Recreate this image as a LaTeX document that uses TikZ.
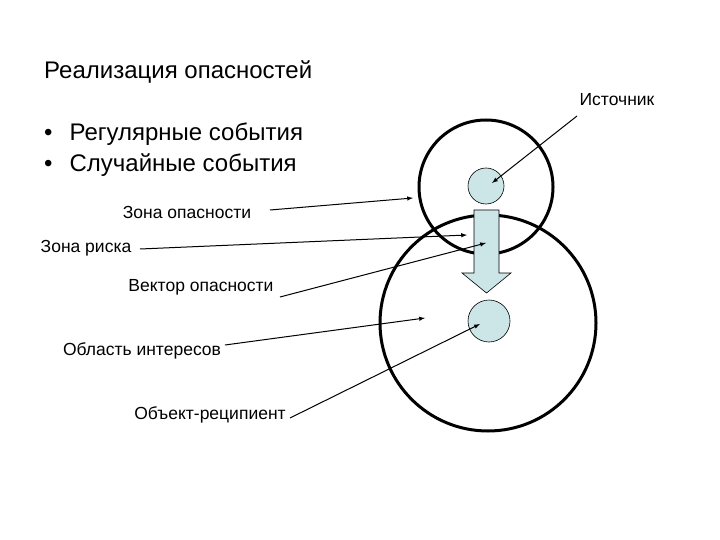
\documentclass[tikz,border=0pt]{standalone}
\usepackage{fontspec}
\setmainfont{Liberation Sans}
\definecolor{blobc}{HTML}{CCE6E8}
\begin{document}
\begin{tikzpicture}[x=1pt,y=-1pt,
  lbl/.style={font=\fontsize{17.5}{20}\selectfont},
  big/.style={font=\fontsize{24}{28}\selectfont},
  ring/.style={draw=black,line width=3pt},
  blob/.style={draw=black,fill=blobc,line width=0.6pt},
  ptr/.style={-latex,line width=1pt}]
\useasboundingbox (0,0) rectangle (720,540);
\node[big,anchor=west,inner sep=0pt] (title) at (44,72) {Реализация опасностей};
\node[big,anchor=west,inner sep=0pt] (b1) at (44,134) {•\hspace{17pt}Регулярные события};
\node[big,anchor=west,inner sep=0pt] (b2) at (44,165) {•\hspace{17pt}Случайные события};
\draw[ring] (486,187) circle (67);
\draw[ring] (488,323) circle (108);
\path[blob] (486,186) circle (18);
\path[blob] (489,321) circle (21);
\path[blob] (474,210) -- (499,210) -- (499,273) -- (511,273) -- (486.5,293) -- (462,273) -- (474,273) -- cycle;
\node[lbl] (src) at (617,100) {Источник};
\node[lbl] (zo) at (187,212) {Зона опасности};
\node[lbl] (zr) at (86,248) {Зона риска};
\node[lbl] (vo) at (201,287) {Вектор опасности};
\node[lbl] (oi) at (142,351) {Область интересов};
\node[lbl] (or) at (210,415) {Объект-реципиент};
\coordinate (t1) at (492,183);
\coordinate (t2) at (413,198);
\coordinate (t3) at (467,235);
\coordinate (t4) at (486,243);
\coordinate (t5) at (425,318);
\coordinate (t6) at (480,324);
\draw[ptr] (577,116) -- (t1);
\draw[ptr] (270,210) -- (t2);
\draw[ptr] (140,249) -- (t3);
\draw[ptr] (280,297) -- (t4);
\draw[ptr] (225,345) -- (t5);
\draw[ptr] (290,418) -- (t6);
\end{tikzpicture}
\end{document}
